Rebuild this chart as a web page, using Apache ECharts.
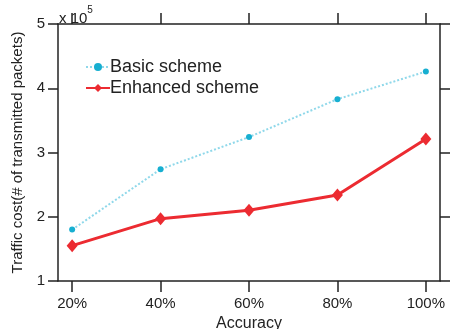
<!DOCTYPE html>
<html><head><meta charset="utf-8">
<script src="https://cdn.jsdelivr.net/npm/echarts@6/dist/echarts.min.js"></script>
<style>html,body{margin:0;padding:0;background:#fff}#c{width:457px;height:329px}</style>
</head><body><div id="c"></div>
<script>
const accuracy = [20, 40, 60, 80, 100];
const basic = [1.80, 2.74, 3.24, 3.83, 4.26];
const enhanced = [1.55, 1.97, 2.10, 2.34, 3.21];
const yTicks = [1, 2, 3, 4, 5];
const FONT = 'Liberation Sans';
const axisCol = '#222';
const chart = echarts.init(document.getElementById('c'));
const xBase = {
  type: 'value', min: 16.8, max: 103.2,
  axisLine: {show: true, onZero: false, lineStyle: {color: axisCol, width: 1.5}},
  splitLine: {show: false}
};
const yBase = {
  type: 'value', min: 1, max: 5, interval: 1,
  axisLine: {show: true, onZero: false, lineStyle: {color: axisCol, width: 1.5}},
  axisTick: {show: true, length: 10, lineStyle: {color: axisCol, width: 1.5}},
  splitLine: {show: false}
};
chart.setOption({
  animation: false,
  textStyle: {fontFamily: FONT},
  grid: {left: 58, right: 17, top: 24, bottom: 48, containLabel: false, outerBoundsMode: 'none'},
  legend: {
    orient: 'vertical', left: 80, top: 53, itemGap: 3,
    itemWidth: 24, itemHeight: 10,
    textStyle: {fontSize: 18, color: '#222', fontFamily: FONT, padding: [0, 0, 0, -5]},
    data: ['Basic scheme', 'Enhanced scheme']
  },
  xAxis: [
    Object.assign({}, xBase, {
      position: 'bottom',
      name: 'Accuracy', nameLocation: 'middle', nameGap: 31,
      nameTextStyle: {fontSize: 16, color: '#222', fontFamily: FONT},
      axisTick: {show: true, length: 11, customValues: accuracy, lineStyle: {color: axisCol, width: 1.5}},
      axisLabel: {show: true, customValues: accuracy, formatter: v => v + '%', fontSize: 15, color: '#222', margin: 15, fontFamily: FONT}
    }),
    Object.assign({}, xBase, {
      position: 'top',
      axisTick: {show: true, length: 11, customValues: accuracy, lineStyle: {color: axisCol, width: 1.5}},
      axisLabel: {show: false}
    })
  ],
  yAxis: [
    Object.assign({}, yBase, {
      position: 'left',
      name: 'Traffic cost(# of transmitted packets)', nameLocation: 'middle', nameGap: 33,
      nameTextStyle: {fontSize: 15, color: '#222', fontFamily: FONT},
      axisLabel: {show: true, fontSize: 15, color: '#222', margin: 13, fontFamily: FONT}
    }),
    Object.assign({}, yBase, {position: 'right', axisLabel: {show: false}})
  ],
  graphic: [{
    type: 'text', left: 59, top: 5,
    style: {
      text: '{a|x 10}{s|5}',
      rich: {
        a: {fontSize: 15, fill: '#222', fontFamily: FONT, verticalAlign: 'bottom', padding: [6, 0, 0, 0]},
        s: {fontSize: 10, fill: '#222', fontFamily: FONT, verticalAlign: 'top'}
      }
    }
  }],
  series: [
    {
      name: 'Basic scheme', type: 'line',
      data: accuracy.map((a, i) => [a, basic[i]]),
      symbol: 'circle', symbolSize: 6,
      itemStyle: {color: '#17afd1'},
      lineStyle: {color: '#8fd8ea', width: 2, type: 'dotted'}
    },
    {
      name: 'Enhanced scheme', type: 'line',
      data: accuracy.map((a, i) => [a, enhanced[i]]),
      symbol: 'diamond', symbolSize: [11, 13],
      itemStyle: {color: '#ec2b31'},
      lineStyle: {color: '#ec2b31', width: 3}
    }
  ]
});
</script></body></html>
